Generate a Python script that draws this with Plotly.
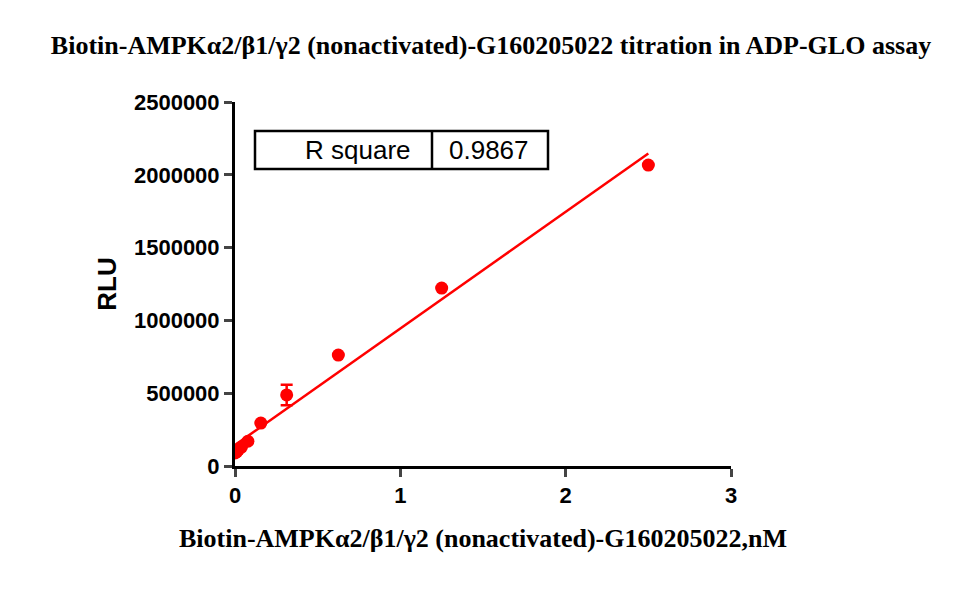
import numpy as np
import plotly.graph_objects as go

conc = [2.5, 1.25, 0.625, 0.3125, 0.15625, 0.078125, 0.0390625, 0.01953125, 0.009765625, 0.0]
rlu = [2067000, 1222000, 762000, 488000, 295000, 170000, 130000, 110000, 96000, 90000]
err = [0, 0, 0, 70000, 0, 0, 0, 0, 0, 0]
r_square = "0.9867"

slope, intercept = np.polyfit(conc, rlu, 1)
fx = np.array([0, 2.5])
fy = slope * fx + intercept

fig = go.Figure()
fig.add_trace(go.Scatter(x=fx, y=fy, mode="lines", line=dict(color="#ff0000", width=2.5), showlegend=False))
fig.add_trace(go.Scatter(x=conc, y=rlu, mode="markers",
    marker=dict(color="#ff0000", size=13),
    error_y=dict(type="data", array=err, color="#ff0000", thickness=2.5, width=6),
    showlegend=False))

fig.update_layout(
    width=966, height=591, plot_bgcolor="white", paper_bgcolor="white",
    margin=dict(l=227, r=243, t=94, b=133),
    title=dict(text="<b>Biotin-AMPKα2/β1/γ2 (nonactivated)-G160205022 titration in ADP-GLO assay</b>",
               x=0.5, xanchor="center", y=1 - 37/591, yanchor="middle",
               font=dict(family="Liberation Serif", size=26, color="black")),
)
fig.update_xaxes(range=[0, 3], tickvals=[0, 1, 2, 3], ticktext=["<b>0</b>", "<b>1</b>", "<b>2</b>", "<b>3</b>"],
    showgrid=False, zeroline=False,
    showline=True, linecolor="black", linewidth=3, ticks="outside", ticklen=8, tickwidth=3,
    tickfont=dict(family="Liberation Sans", size=22, color="black"),
    title=dict(text="<b>Biotin-AMPKα2/β1/γ2 (nonactivated)-G160205022,nM</b>",
               font=dict(family="Liberation Serif", size=26, color="black"), standoff=22))
fig.update_yaxes(range=[0, 2500000], tickvals=[0, 500000, 1000000, 1500000, 2000000, 2500000],
    ticktext=["<b>0</b>", "<b>500000</b>", "<b>1000000</b>", "<b>1500000</b>", "<b>2000000</b>", "<b>2500000</b>"],
    showgrid=False, zeroline=False,
    showline=True, linecolor="black", linewidth=3, ticks="outside", ticklen=8, tickwidth=3,
    tickfont=dict(family="Liberation Sans", size=22, color="black"),
    title=dict(text="<b>RLU</b>", font=dict(family="Liberation Sans", size=26, color="black"), standoff=10))

fig.add_shape(type="rect", xref="paper", yref="paper", x0=20/496, x1=313/496, y0=(466-169)/364, y1=(466-131)/364,
              line=dict(color="black", width=2.5), fillcolor="rgba(0,0,0,0)")
fig.add_shape(type="line", xref="paper", yref="paper", x0=197/496, x1=197/496, y0=(466-169)/364, y1=(466-131)/364,
              line=dict(color="black", width=2.5))
fig.add_annotation(xref="paper", yref="paper", x=(358-235)/496, y=(466-150)/364, text="R square",
                   xanchor="center", yanchor="middle",
                   showarrow=False, font=dict(family="Liberation Sans", size=26, color="black"))
fig.add_annotation(xref="paper", yref="paper", x=(489-235)/496, y=(466-150)/364, text=r_square,
                   xanchor="center", yanchor="middle",
                   showarrow=False, font=dict(family="Liberation Sans", size=26, color="black"))

fig.write_html("out.html")
